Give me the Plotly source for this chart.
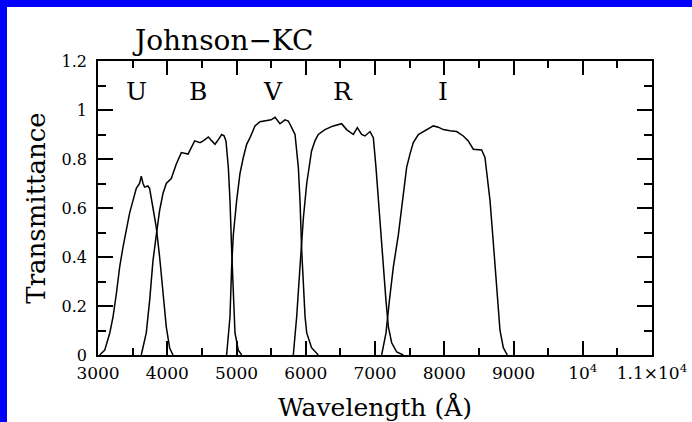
import plotly.graph_objects as go

# ---- data ----
u_wave = [3025, 3097, 3170, 3217, 3265, 3313, 3361, 3409, 3457, 3505, 3553, 3600, 3625, 3650, 3673, 3720, 3745, 3794, 3842, 3890, 3939, 3986, 4035, 4083]
u_trans = [0.0, 0.02, 0.09, 0.156, 0.25, 0.36, 0.44, 0.51, 0.58, 0.63, 0.68, 0.70, 0.73, 0.70, 0.685, 0.69, 0.68, 0.60, 0.52, 0.40, 0.25, 0.115, 0.028, 0.0]

b_wave = [3625, 3697, 3745, 3794, 3842, 3890, 3939, 3986, 4058, 4131, 4203, 4300, 4396, 4473, 4520, 4593, 4640, 4690, 4740, 4786, 4820, 4848, 4882, 4906, 4930, 4954, 4978, 5026, 5075]
b_trans = [0.0, 0.09, 0.22, 0.385, 0.49, 0.59, 0.66, 0.70, 0.72, 0.78, 0.826, 0.82, 0.874, 0.867, 0.874, 0.89, 0.875, 0.86, 0.88, 0.90, 0.895, 0.874, 0.766, 0.63, 0.43, 0.22, 0.09, 0.02, 0.0]

v_wave = [4857, 4906, 4930, 4954, 5002, 5050, 5098, 5147, 5195, 5267, 5339, 5436, 5500, 5556, 5600, 5628, 5700, 5748, 5797, 5845, 5893, 5917, 5941, 5966, 5990, 6014, 6084, 6181]
v_trans = [0.0, 0.156, 0.36, 0.49, 0.63, 0.74, 0.806, 0.86, 0.887, 0.935, 0.952, 0.955, 0.96, 0.97, 0.955, 0.944, 0.96, 0.955, 0.928, 0.90, 0.766, 0.63, 0.43, 0.29, 0.156, 0.09, 0.03, 0.0]

r_wave = [5820, 5869, 5917, 5966, 6014, 6051, 6084, 6133, 6181, 6277, 6398, 6518, 6590, 6687, 6745, 6807, 6855, 6928, 6976, 7014, 7048, 7082, 7120, 7159, 7193, 7241, 7313, 7409]
r_trans = [0.0, 0.156, 0.36, 0.56, 0.70, 0.78, 0.833, 0.874, 0.90, 0.92, 0.935, 0.944, 0.92, 0.90, 0.928, 0.90, 0.894, 0.912, 0.887, 0.766, 0.63, 0.49, 0.36, 0.22, 0.115, 0.05, 0.013, 0.0]

i_wave = [7096, 7159, 7207, 7265, 7337, 7409, 7457, 7505, 7553, 7626, 7722, 7842, 7914, 7986, 8083, 8179, 8275, 8347, 8419, 8540, 8588, 8622, 8661, 8700, 8733, 8766, 8805, 8853, 8911]
i_trans = [0.0, 0.09, 0.22, 0.36, 0.49, 0.67, 0.766, 0.82, 0.867, 0.90, 0.915, 0.935, 0.93, 0.92, 0.915, 0.912, 0.894, 0.874, 0.84, 0.837, 0.806, 0.725, 0.63, 0.49, 0.36, 0.22, 0.10, 0.03, 0.0]

band_names = ["U", "B", "V", "R", "I"]
band_label_x = [3560, 4440, 5530, 6540, 7980]
band_label_y = 1.077

x_tickvals = [3000, 4000, 5000, 6000, 7000, 8000, 9000, 10000, 11000]
x_ticktext = ["3000", "4000", "5000", "6000", "7000", "8000", "9000", "10<sup>4</sup>", "1.1×10<sup>4</sup>"]
y_tickvals = [0, 0.2, 0.4, 0.6, 0.8, 1.0, 1.2]
y_ticktext = ["0", "0.2", "0.4", "0.6", "0.8", "1", "1.2"]

title_text = "Johnson−KC"
x_title = "Wavelength (Å)"
y_title = "Transmittance"

FONT = "DejaVu Serif"
W, H = 692, 422
L, R, T, B = 98, 40, 61, 67
PW, PH = W - L - R, H - T - B

fig = go.Figure()
for wv, tr in [(u_wave, u_trans), (b_wave, b_trans), (v_wave, v_trans), (r_wave, r_trans), (i_wave, i_trans)]:
    fig.add_trace(go.Scatter(x=wv, y=tr, mode="lines", line=dict(color="black", width=1.5),
                             showlegend=False, hoverinfo="skip"))

for name, bx in zip(band_names, band_label_x):
    fig.add_annotation(x=bx, y=band_label_y, xref="x", yref="y", text=name, showarrow=False,
                       font=dict(family=FONT, size=25, color="black"), xanchor="center", yanchor="middle")

fig.add_annotation(x=(130 - L) / PW, y=(T + PH - 40) / PH, xref="paper", yref="paper", text=title_text,
                   showarrow=False, xanchor="left", yanchor="middle",
                   font=dict(family=FONT, size=28, color="black"))

# blue frame on top and left
fig.add_shape(type="rect", xref="paper", yref="paper", layer="below",
              x0=(7 - L) / PW, x1=(W + 10 - L) / PW, y0=-(B + 10) / PH, y1=(T + PH - 7) / PH,
              fillcolor="white", line=dict(width=0))

axis_common = dict(showline=True, linecolor="black", linewidth=1.6, mirror="ticks", ticks="inside",
                   tickcolor="black", tickwidth=1.6, showgrid=False, zeroline=False)

fig.update_xaxes(range=[3000, 11000], tickvals=x_tickvals, ticktext=x_ticktext, ticklen=14,
                 minor=dict(dtick=500, tick0=3000, ticks="inside", ticklen=7, tickcolor="black", tickwidth=1.6, showgrid=False),
                 tickfont=dict(family=FONT, size=17, color="black"), ticklabelstandoff=2,
                 title=dict(text=x_title, font=dict(family=FONT, size=25, color="black"), standoff=16),
                 **axis_common)
fig.update_yaxes(range=[0, 1.2], tickvals=y_tickvals, ticktext=y_ticktext, ticklen=15,
                 minor=dict(dtick=0.1, tick0=0, ticks="inside", ticklen=8, tickcolor="black", tickwidth=1.6, showgrid=False),
                 tickfont=dict(family=FONT, size=16, color="black"), ticklabelstandoff=6,
                 title=dict(text=y_title, font=dict(family=FONT, size=26, color="black"), standoff=8),
                 **axis_common)

fig.update_layout(width=W, height=H, margin=dict(l=L, r=R, t=T, b=B, autoexpand=False),
                  paper_bgcolor="#0000ff", plot_bgcolor="white")

fig.write_html("out.html", config={"displayModeBar": False},
               post_script="document.body.style.margin='0';")
